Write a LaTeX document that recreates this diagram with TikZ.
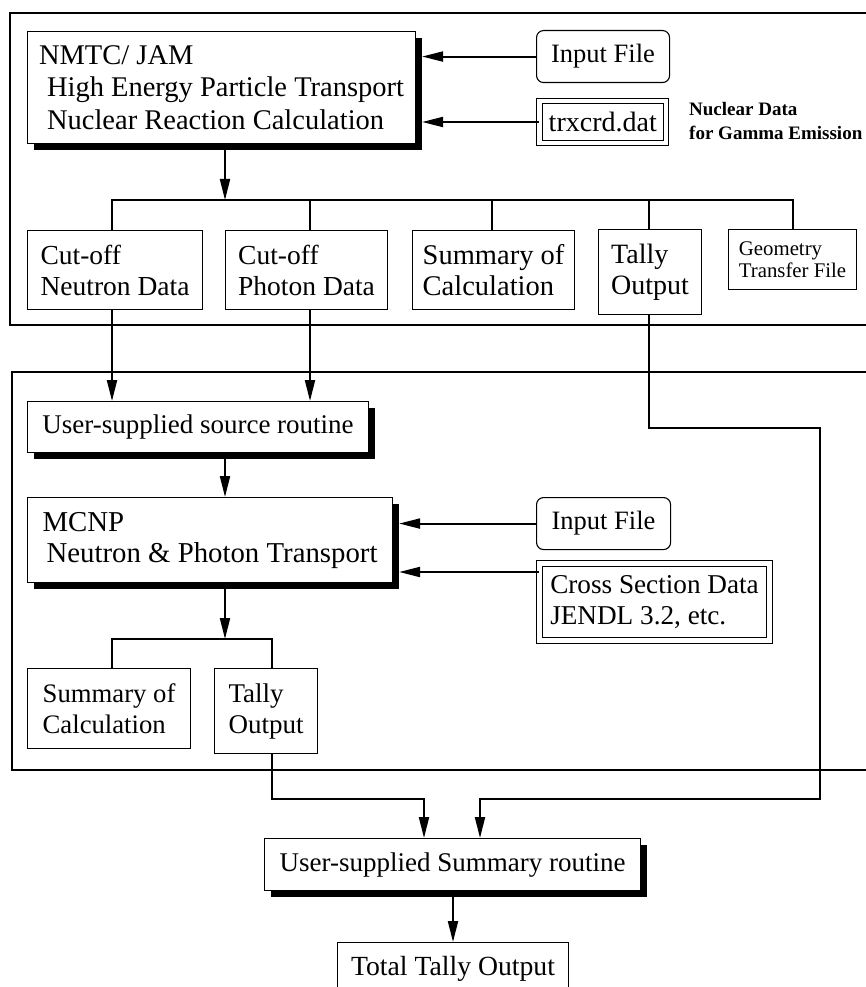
\documentclass[tikz,border=0pt]{standalone}
\usepackage{fontspec}
\setmainfont{Liberation Serif}
\usetikzlibrary{arrows.meta,shadows}
\tikzset{
  box/.style={draw, line width=1.1pt, fill=white, inner sep=0pt, align=left, anchor=north west, font=\fontsize{26.5}{31}\selectfont},
  fsz/.style={font=\fontsize{#1}{31}\selectfont},
  shbox/.style={box, drop shadow={opacity=1, fill=black, shadow xshift=6pt, shadow yshift=-6pt}},
  rbox/.style={box, rounded corners=7pt},
  dbox/.style={box, double, double distance=4.3pt, line width=1pt},
  conn/.style={line width=2pt, line join=miter},
  arr/.style={conn, -{Triangle[length=21pt,width=10pt]}},
  frame/.style={line width=2pt}
}
\begin{document}
\begin{tikzpicture}[x=1pt,y=-1pt]
\useasboundingbox (0,0) rectangle (866,987);
\clip (0,0) rectangle (866,987);
% frames
\draw[frame] (880,13) -- (10,13) -- (10,325) -- (880,325);
\draw[frame] (880,372) -- (12,372) -- (12,770) -- (880,770);
% nodes
\node[shbox, minimum width=388pt, minimum height=112pt, font=\fontsize{28.5}{32.5}\selectfont] (nmtc) at (27,31) {NMTC/ JAM\\\hspace*{8pt}High Energy Particle Transport\\\hspace*{8pt}Nuclear Reaction Calculation};
\node[rbox, minimum width=133pt, minimum height=52pt] (inp1) at (536,30) {Input File};
\node[dbox, minimum width=126.5pt, minimum height=42pt, fsz=28] (trx) at (539,100.5) {trxcrd.dat};
\node[anchor=west, align=left, inner sep=0pt, font=\bfseries\fontsize{19}{24}\selectfont] (nd) at (689,121) {Nuclear Data\\for Gamma Emission};
\node[box, minimum width=175pt, minimum height=79pt, fsz=27.5] (cn) at (27,230) {Cut-off\\Neutron Data};
\node[box, minimum width=162pt, minimum height=79pt, fsz=27.5] (cp) at (225,230) {Cut-off\\Photon Data};
\node[box, minimum width=162pt, minimum height=79pt, fsz=28.5] (sc1) at (412,230) {Summary of\\Calculation};
\node[box, minimum width=103pt, minimum height=85pt, fsz=28] (t1) at (598,229) {Tally\\Output};
\node[box, minimum width=128pt, minimum height=60pt, font=\fontsize{20.8}{22.5}\selectfont] (geo) at (728,229) {Geometry\\Transfer File};
\node[shbox, minimum width=341pt, minimum height=51pt, fsz=27] (src) at (27,401) {User-supplied source routine};
\node[shbox, minimum width=365pt, minimum height=85pt, fsz=28.8] (mcnp) at (27,497) {MCNP\\\hspace*{4pt}Neutron \& Photon Transport};
\node[rbox, minimum width=134pt, minimum height=52pt] (inp2) at (536,497) {Input File};
\node[dbox, minimum width=230pt, minimum height=77pt, fsz=27.2] (cross) at (539,563) {Cross Section Data\\JENDL 3.2, etc.};
\node[box, minimum width=163pt, minimum height=80pt, fsz=26.7] (sc2) at (27,668) {Summary of\\Calculation};
\node[box, minimum width=103pt, minimum height=85pt, fsz=27] (t2) at (214,668) {Tally\\Output};
\node[shbox, minimum width=376pt, minimum height=52pt, fsz=27] (sumr) at (264,838) {User-supplied Summary routine};
\node[box, minimum width=231pt, minimum height=52pt, fsz=27.7] (tot) at (337,942) {Total Tally Output};
% coordinates
\coordinate (nmtcR) at ([xshift=6pt]nmtc.east);
\coordinate (mcR) at ([xshift=6pt]mcnp.east);
\coordinate (cw) at ([yshift=-9pt]cross.north west);
\coordinate (bc) at (225,200);
\coordinate (b1) at (112,200);
\coordinate (b2) at (310,200);
\coordinate (b3) at (492,200);
\coordinate (b4) at (649,200);
\coordinate (b5) at (793,200);
\coordinate (r1) at (649,428);
\coordinate (r2) at (820,428);
\coordinate (r3) at (820,799);
\coordinate (r4) at (480,799);
\coordinate (m1) at (112,639);
\coordinate (m2) at (272,639);
\coordinate (mc) at (225,639);
\coordinate (q1) at (272,799);
\coordinate (q2) at (424,799);
\coordinate (sc) at (453,0);
% connectors
\draw[arr] (inp1.west) -- (nmtcR |- inp1.west);
\draw[arr] (trx.west) -- (nmtcR |- trx.west);
\draw[arr] (bc |- nmtc.south) -- (bc);
\draw[conn] (b1 |- cn.north) -- (b1) -- (b5) -- (b5 |- geo.north);
\draw[conn] (b2) -- (b2 |- cp.north);
\draw[conn] (b3) -- (b3 |- sc1.north);
\draw[conn] (b4) -- (b4 |- t1.north);
\draw[arr] (b1 |- cn.south) -- (b1 |- src.north);
\draw[arr] (b2 |- cp.south) -- (b2 |- src.north);
\draw[arr] (r1 |- t1.south) -- (r1) -- (r2) -- (r3) -- (r4) -- (r4 |- sumr.north);
\draw[arr] (bc |- src.south) -- (bc |- mcnp.north);
\draw[arr] (inp2.west) -- (mcR |- inp2.west);
\draw[arr] (cw) -- (mcR |- cw);
\draw[arr] (mc |- mcnp.south) -- (mc);
\draw[conn] (m1 |- sc2.north) -- (m1) -- (m2) -- (m2 |- t2.north);
\draw[arr] (m2 |- t2.south) -- (q1) -- (q2) -- (q2 |- sumr.north);
\draw[arr] (sc |- sumr.south) -- (sc |- tot.north);
\end{tikzpicture}
\end{document}
